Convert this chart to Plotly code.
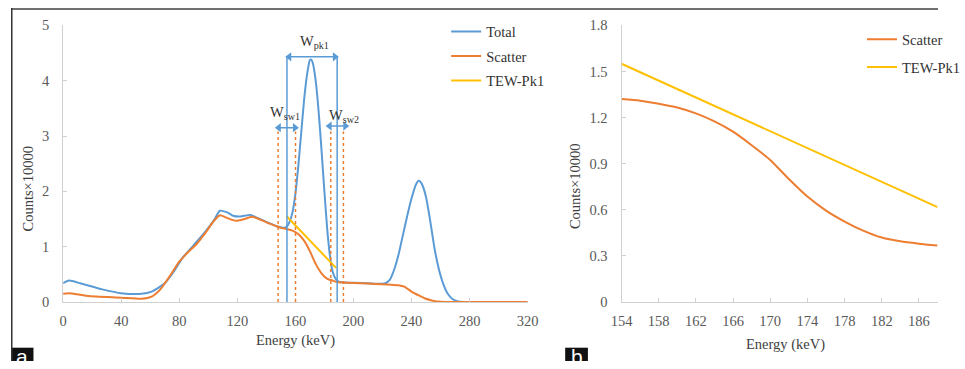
import plotly.graph_objects as go

# ---------------- data (panel a) ----------------
total_e = [0, 4, 13, 27, 40, 54, 61, 70, 77, 82, 90, 97, 104, 108, 113, 117, 122, 129, 133, 140, 147,
           150, 152, 154, 156, 158, 160, 162, 164, 166, 168, 170, 171, 172, 174, 176, 178, 180, 182, 184,
           186, 188, 190, 194, 200, 210, 220, 222, 225, 228, 231, 234, 237, 240, 243, 245, 247, 250, 253,
           256, 259, 262, 265, 268, 272, 276, 300, 320]
total_v = [0.34, 0.39, 0.33, 0.23, 0.16, 0.15, 0.19, 0.34, 0.58, 0.79, 1.03, 1.24, 1.48, 1.65, 1.62, 1.56,
           1.545, 1.575, 1.53, 1.45, 1.37,
           1.35, 1.34, 1.36, 1.45, 1.62, 1.95, 2.45, 3.05, 3.65, 4.1, 4.37, 4.38, 4.32, 4.0, 3.45, 2.75, 2.0,
           1.3, 0.8, 0.52, 0.41, 0.37, 0.355, 0.35, 0.34, 0.33, 0.34, 0.40, 0.58, 0.85, 1.2, 1.55, 1.87,
           2.12, 2.19, 2.14, 1.9, 1.45, 0.95, 0.58, 0.32, 0.15, 0.06, 0.01, 0.0, 0.0, 0.0]

scatter_e = [0, 4, 17, 40, 54, 61, 67, 74, 80, 86, 92, 98, 104, 108, 112, 117, 120, 125, 130, 134, 140,
             146, 150, 154, 158, 162, 166, 170, 174, 178, 182, 186, 188, 190, 200, 210, 220, 226, 231,
             235, 240, 245, 249, 254, 258, 263, 270, 300, 320]
scatter_v = [0.15, 0.16, 0.11, 0.08, 0.06, 0.10, 0.23, 0.49, 0.73, 0.90, 1.05, 1.25, 1.47, 1.57, 1.53,
             1.48, 1.47, 1.50, 1.54, 1.51, 1.44, 1.38, 1.34, 1.32, 1.29, 1.23, 1.11, 0.92, 0.69, 0.52,
             0.42, 0.387, 0.368, 0.36, 0.345, 0.335, 0.32, 0.315, 0.305, 0.28, 0.19, 0.12, 0.07, 0.03,
             0.01, 0.0, 0.0, 0.0, 0.0]

tew_e = [154, 188]
tew_v = [1.55, 0.617]

# ---------------- data (panel b) ----------------
zoom_e = [154, 156, 158, 160, 162, 164, 166, 168, 170, 172, 174, 176, 178, 180, 182, 184, 186, 188]
zoom_scatter = [1.32, 1.31, 1.29, 1.265, 1.227, 1.175, 1.108, 1.02, 0.924, 0.80, 0.686, 0.595, 0.524,
                0.465, 0.42, 0.395, 0.38, 0.368]

# energy windows (keV) and their marker arrows
peak_window = [154.2, 188.8]
sw1_window = [148.1, 160.1]
sw2_window = [184.4, 193.1]
peak_arrow = [154.2, 188.8]
sw1_arrow = [147.0, 161.3]
sw2_arrow = [182.0, 196.0]
peak_arrow_y = 4.43
sw_arrow_y = [3.15, 3.18]

BLUE = "#5B9BD5"
ORANGE = "#ED7D31"
YELLOW = "#FFC000"
SERIF = "Liberation Serif"

# The photographed page shows the figure inside a page margin and shrinks it slightly,
# so target positions (in the final picture) are mapped back to layout pixels.
W, H = 965, 369
MX, MY = 8.5, 8
SCX, SCY = 0.972, H / (H + 2 * MY)

def px(r):
    return min((r / SCX - MX) / W, 0.9995)

def py(r):
    return 1 - (r / SCY - MY) / H

FS = 14.5

fig = go.Figure()
fig.add_trace(go.Scatter(x=total_e, y=total_v, name="Total", mode="lines",
                         line=dict(color=BLUE, width=2, shape="spline", smoothing=0.6),
                         xaxis="x", yaxis="y", legend="legend", legendgroup="t"))
fig.add_trace(go.Scatter(x=scatter_e, y=scatter_v, name="Scatter", mode="lines",
                         line=dict(color=ORANGE, width=2, shape="spline", smoothing=0.6),
                         xaxis="x", yaxis="y", legend="legend", legendgroup="s"))
fig.add_trace(go.Scatter(x=tew_e, y=tew_v, name="TEW-Pk1", mode="lines",
                         line=dict(color=YELLOW, width=2),
                         xaxis="x", yaxis="y", legend="legend", legendgroup="w"))
fig.add_trace(go.Scatter(x=zoom_e, y=zoom_scatter, name="Scatter", mode="lines",
                         line=dict(color=ORANGE, width=2, shape="spline", smoothing=0.6),
                         xaxis="x2", yaxis="y2", legend="legend2", legendgroup="s2"))
fig.add_trace(go.Scatter(x=tew_e, y=tew_v, name="TEW-Pk1", mode="lines",
                         line=dict(color=YELLOW, width=2),
                         xaxis="x2", yaxis="y2", legend="legend2", legendgroup="w2"))

# double-headed arrows: line + triangle heads
arrows = [(peak_arrow, peak_arrow_y), (sw1_arrow, sw_arrow_y[0]), (sw2_arrow, sw_arrow_y[1])]
head_x, head_y, head_sym = [], [], []
for (xa, xb), yv in arrows:
    fig.add_trace(go.Scatter(x=[xa, xb], y=[yv, yv], mode="lines", line=dict(color=BLUE, width=1.5),
                             showlegend=False, hoverinfo="skip", xaxis="x", yaxis="y"))
    head_x += [xa + 1.6, xb - 1.6]
    head_y += [yv, yv]
    head_sym += ["triangle-left", "triangle-right"]
fig.add_trace(go.Scatter(x=head_x, y=head_y, mode="markers",
                         marker=dict(symbol=head_sym, size=8, color=BLUE, line=dict(width=0)),
                         showlegend=False, hoverinfo="skip", xaxis="x", yaxis="y"))

axis_common = dict(showgrid=False, zeroline=False, showline=True, linecolor="#D0D0D0", linewidth=1,
                   ticks="inside", ticklen=4, tickcolor="#D0D0D0",
                   tickfont=dict(family=SERIF, size=FS, color="#595959"))

ydom = [py(302.3), py(25)]
fig.update_layout(
    width=W, height=H, autosize=False, margin=dict(l=0, r=0, t=0, b=0),
    paper_bgcolor="white", plot_bgcolor="white",
    xaxis=dict(domain=[px(61), px(531)], range=[0, 320], tick0=0, dtick=40, anchor="y",
               ticklabelstandoff=6, **axis_common),
    yaxis=dict(domain=ydom, range=[0, 5], tick0=0, dtick=1, anchor="x",
               ticklabelstandoff=10, **axis_common),
    xaxis2=dict(domain=[px(626), px(956.7)], range=[154, 188], tick0=154, dtick=4, anchor="y2",
                ticklabelstandoff=6, **axis_common),
    yaxis2=dict(domain=ydom, range=[0, 1.8], tick0=0, dtick=0.3, anchor="x2",
                ticklabelstandoff=10, **axis_common),
    legend=dict(x=453 / W, y=1 - 8 / H, xanchor="left", yanchor="top", bgcolor="rgba(0,0,0,0)",
                font=dict(family=SERIF, size=FS, color="#333333"), tracegroupgap=2.6),
    legend2=dict(x=886 / W, y=1 - 16 / H, xanchor="left", yanchor="top", bgcolor="rgba(0,0,0,0)",
                 font=dict(family=SERIF, size=FS, color="#333333"), tracegroupgap=6),
    showlegend=True,
)

shapes = []
# frame
shapes.append(dict(type="line", xref="paper", yref="paper", x0=0, x1=1, y0=1 - 1 / H, y1=1 - 1 / H,
                   line=dict(color="#707070", width=2)))
shapes.append(dict(type="line", xref="paper", yref="paper", x0=0.8 / W, x1=0.8 / W, y0=1, y1=0,
                   line=dict(color="#333333", width=1.5)))
# window lines
for e in peak_window:
    shapes.append(dict(type="line", xref="x", yref="y", x0=e, x1=e, y0=0, y1=peak_arrow_y,
                       line=dict(color=BLUE, width=1.5)))
for e in sw1_window + sw2_window:
    shapes.append(dict(type="line", xref="x", yref="y", x0=e, x1=e, y0=0, y1=3.08,
                       line=dict(color=ORANGE, width=1.5, dash="dot")))
# panel label boxes
for x0 in (8, 569):
    shapes.append(dict(type="rect", xref="paper", yref="paper", x0=max(px(x0), 0), x1=px(x0 + 23),
                       y0=0, y1=py(348), fillcolor="#111111", line=dict(width=0), layer="below"))
fig.update_layout(shapes=shapes)

ann = []
lab_font = dict(family=SERIF, size=FS, color="#333333")
ann.append(dict(x=173, y=4.7, xref="x", yref="y", text="W<sub>pk1</sub>", showarrow=False, font=lab_font))
ann.append(dict(x=152.8, y=3.42, xref="x", yref="y", text="W<sub>sw1</sub>", showarrow=False, font=lab_font))
ann.append(dict(x=193.5, y=3.36, xref="x", yref="y", text="W<sub>sw2</sub>", showarrow=False, font=lab_font))
# axis titles
tfont = dict(family=SERIF, size=FS, color="#404040")
common = dict(xref="paper", yref="paper", showarrow=False, xanchor="center", yanchor="middle")
ann.append(dict(x=px(296), y=py(341), text="Energy (keV)", font=tfont, **common))
ann.append(dict(x=px(25), y=py(189), text="Counts×10000", textangle=-90, font=tfont, **common))
ann.append(dict(x=px(792), y=py(345), text="Energy (keV)", font=tfont, **common))
ann.append(dict(x=px(579), y=py(186), text="Counts×10000", textangle=-90, font=tfont, **common))
# panel labels
pfont = dict(family="Liberation Sans", size=21, color="white")
ann.append(dict(x=px(19.5), y=py(357), text="a", font=pfont, **common))
ann.append(dict(x=px(580.5), y=py(357), text="b", font=pfont, **common))
fig.update_layout(annotations=ann)

fig.write_html("out.html")
